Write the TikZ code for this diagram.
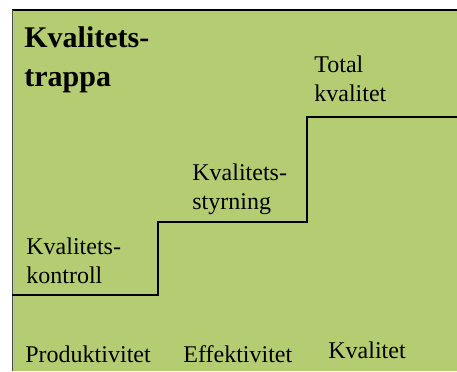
\documentclass[tikz,border=0pt]{standalone}
\usepackage{fontspec}
\setmainfont{Liberation Serif}
\definecolor{stairgreen}{RGB}{181,205,114}
\begin{document}
\begin{tikzpicture}
[x=0.5pt,y=-0.5pt,
  labeldecorate/.style={anchor=base west,inner sep=0pt,align=left,
    font=\fontsize{12}{14.5}\selectfont},%
  titledecorate/.style={anchor=base west,inner sep=0pt,align=left,
    font=\fontsize{15}{19.5}\selectfont\bfseries},%
  stairdecorate/.style={-,line width=1.3pt}]
\useasboundingbox (0,0) rectangle (457,371);
%% background and frame
\fill[stairgreen] (12,9) rectangle (457,371);
\draw[line width=1pt] (12,10) -- (457,10);
\draw[line width=0.8pt,black!70] (12.5,10) -- (12.5,371);
%% staircase
\draw[stairdecorate] (12.5,295) -- (158,295) -- (158,222) -- (307,222)
  -- (307,117) -- (457,117);
%% title (base = last line)
\node (title) at (24,86) [titledecorate] {Kvalitets-\\trappa};
%% step labels
\foreach \nodename/\x/\y/\txt in {total/314/101/{Total\\kvalitet},
    styrning/192/209/{Kvalitets-\\styrning},
    kontroll/26/283/{Kvalitets-\\kontroll},
    produktivitet/25/362/{Produktivitet},
    effektivitet/183/362/{Effektivitet},
    kvalitet/328/358/{Kvalitet}} {
  \node (\nodename) at (\x,\y) [labeldecorate] {\txt};
}
\end{tikzpicture}
\end{document}
